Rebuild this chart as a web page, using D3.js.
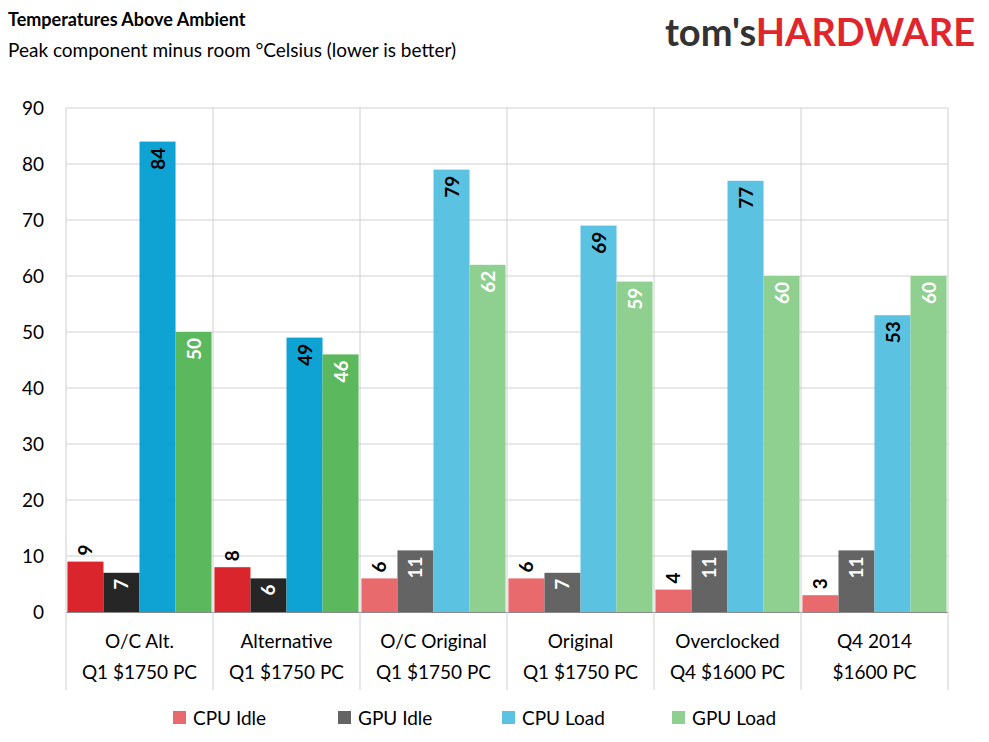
<!DOCTYPE html>
<html><head><meta charset="utf-8">
<script src="https://cdn.jsdelivr.net/npm/d3@7"></script>
<style>body{margin:0;background:#fff}text{font-family:Lato,"Open Sans",sans-serif}</style>
</head><body><svg id="c" width="989" height="742"></svg>
<script>
const groups = [["O/C Alt.", "Q1 $1750 PC"], ["Alternative", "Q1 $1750 PC"], ["O/C Original", "Q1 $1750 PC"],
  ["Original", "Q1 $1750 PC"], ["Overclocked", "Q4 $1600 PC"], ["Q4  2014", "$1600 PC"]];
const series = ["CPU Idle", "GPU Idle", "CPU Load", "GPU Load"];
const cpuIdle = [9, 8, 6, 6, 4, 3];
const gpuIdle = [7, 6, 11, 7, 11, 11];
const cpuLoad = [84, 49, 79, 69, 77, 53];
const gpuLoad = [50, 46, 62, 59, 60, 60];
const yTicks = [0, 10, 20, 30, 40, 50, 60, 70, 80, 90];
const values = [cpuIdle, gpuIdle, cpuLoad, gpuLoad];
const strong = ["#d9252b", "#262626", "#0ea3d3", "#5cb85c"];
const light = ["#e86a6c", "#646464", "#5bc3e1", "#8fd090"];

const svg = d3.select("#c");
const x = d3.scaleBand().domain(d3.range(6)).range([66, 948]);
const xi = d3.scaleBand().domain(d3.range(4)).range([0, x.bandwidth()]).paddingOuter(0.04);
const y = d3.scaleLinear().domain([0, 90]).range([612, 108]);

svg.append("g").selectAll("line").data(yTicks.slice(1)).join("line")
  .attr("x1", 66).attr("x2", 948).attr("y1", d => y(d)).attr("y2", d => y(d)).attr("stroke", "#d0d0d0");
svg.append("g").selectAll("line").data(d3.range(7)).join("line")
  .attr("x1", d => d < 6 ? x(d) : 948).attr("x2", d => d < 6 ? x(d) : 948)
  .attr("y1", 108).attr("y2", 612).attr("stroke", "#d0d0d0");
svg.append("g").selectAll("text").data(yTicks).join("text")
  .attr("x", 44).attr("y", d => y(d) + 7).attr("text-anchor", "end").attr("font-size", 19).text(d => d);

groups.forEach((g, gi) => {
  const gg = svg.append("g").attr("transform", `translate(${x(gi)},0)`);
  values.forEach((vals, si) => {
    const v = vals[gi];
    const col = (gi < 2 ? strong : light)[si];
    const bx = xi(si), bw = xi.bandwidth();
    gg.append("rect").attr("x", bx).attr("y", y(v)).attr("width", bw).attr("height", y(0) - y(v)).attr("fill", col);
    const inside = si > 0;
    const cx = bx + bw / 2;
    const ty = inside ? y(v) + 6 : y(v) - 6;
    gg.append("text").attr("transform", `translate(${cx + 7},${ty}) rotate(-90)`)
      .attr("text-anchor", inside ? "end" : "start").attr("font-size", 19).attr("font-weight", "bold")
      .attr("fill", si === 0 || si === 2 ? "#000" : "#fff").text(v);
  });
  const t = svg.append("text").attr("x", x(gi) + x.bandwidth() / 2).attr("text-anchor", "middle").attr("font-size", 19);
  t.append("tspan").attr("x", x(gi) + x.bandwidth() / 2).attr("y", 648).text(g[0]);
  t.append("tspan").attr("x", x(gi) + x.bandwidth() / 2).attr("y", 679).text(g[1]);
});
svg.append("line").attr("x1", 66).attr("x2", 948).attr("y1", 612.5).attr("y2", 612.5).attr("stroke", "#888");
svg.append("line").attr("x1", 66).attr("x2", 948).attr("y1", 612.5).attr("y2", 612.5).attr("stroke", "#888");
d3.range(7).forEach(i => svg.append("line").attr("x1", 66 + i * 147).attr("x2", 66 + i * 147).attr("y1", 612).attr("y2", 690).attr("stroke", "#d0d0d0"));

const lx = [173, 338, 502, 672];
series.forEach((s, i) => {
  svg.append("rect").attr("x", lx[i]).attr("y", 711).attr("width", 13).attr("height", 13).attr("fill", light[i]);
  svg.append("text").attr("x", lx[i] + 20).attr("y", 725).attr("font-size", 19).text(s);
});

svg.append("text").attr("x", 8).attr("y", 26).attr("font-size", 18).attr("font-weight", "bold").text("Temperatures Above Ambient");
svg.append("text").attr("x", 8).attr("y", 57).attr("font-size", 19).text("Peak component minus room \u00B0Celsius (lower is better)");
const logo = svg.append("text").attr("x", 975).attr("y", 46).attr("text-anchor", "end").attr("font-size", 38).attr("font-weight", "bold");
logo.append("tspan").attr("fill", "#333").text("tom's");
logo.append("tspan").attr("fill", "#e0262c").text("HARDWARE");
</script></body></html>
